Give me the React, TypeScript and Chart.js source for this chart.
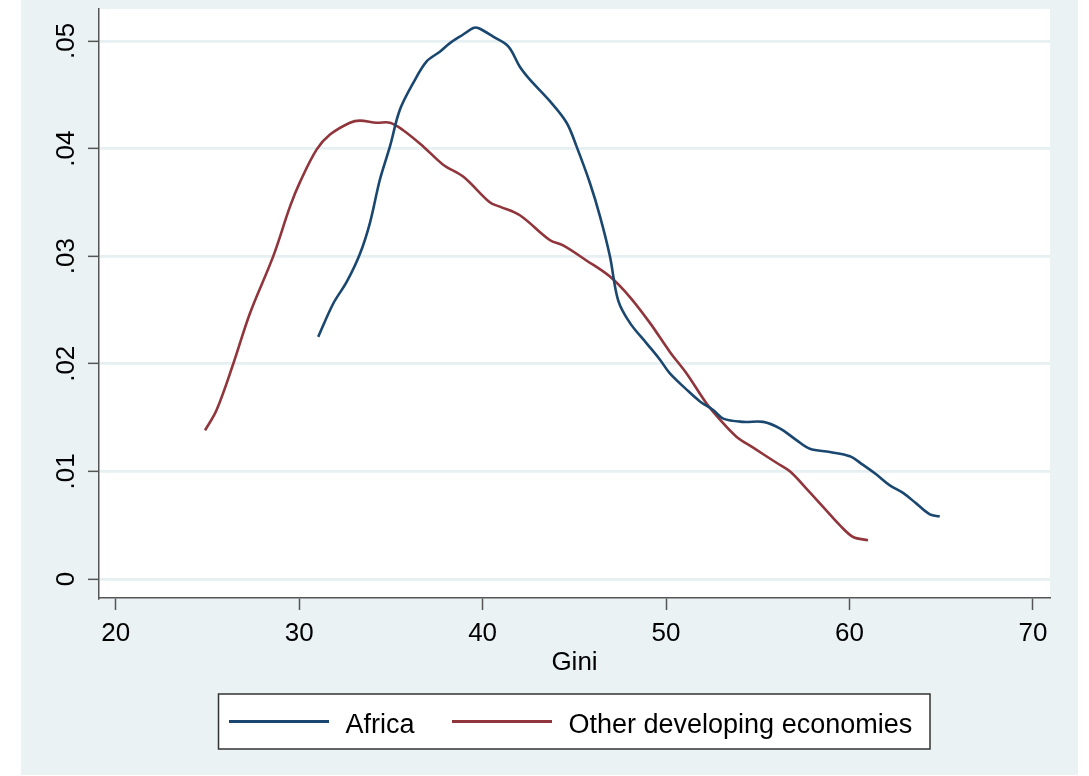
import React, { useEffect, useRef } from "react";
import { Chart, registerables } from "chart.js";

Chart.register(...registerables);

const xTicks = [20, 30, 40, 50, 60, 70];
const yTicks = [0, 0.01, 0.02, 0.03, 0.04, 0.05];
const yTickLabels = ["0", ".01", ".02", ".03", ".04", ".05"];
const xTitle = "Gini";
const seriesNames = ["Africa", "Other developing economies"];
const seriesColors = ["#1A476F", "#90353B"];

const africaGini = [
  31.04, 31.86, 32.59, 33.31, 33.86, 34.4, 34.95, 35.49, 36.22, 36.95, 37.67, 38.22, 38.94,
  39.49, 39.76, 40.58, 41.4, 42.03, 42.58, 43.67, 44.58, 45.12, 45.85, 46.4, 46.94, 47.39,
  48.03, 48.94, 49.66, 50.21, 51.12, 51.85, 52.57, 53.12, 54.21, 55.3, 56.2, 57.11, 57.84,
  58.93, 60.02, 60.74, 61.47, 62.2, 62.92, 63.65, 64.38, 64.92,
];
const africaDensity = [
  0.0225, 0.0256, 0.0276, 0.0302, 0.0331, 0.0371, 0.0402, 0.0436, 0.0461, 0.0481, 0.049, 0.0498,
  0.0506, 0.0512, 0.0512, 0.0504, 0.0495, 0.0476, 0.0464, 0.0444, 0.0424, 0.0402, 0.0368, 0.0337,
  0.03, 0.0259, 0.0238, 0.0219, 0.0204, 0.0191, 0.0176, 0.0165, 0.0157, 0.0149, 0.0146, 0.0146,
  0.014, 0.0129, 0.0121, 0.0118, 0.0114, 0.0106, 0.0097, 0.0087, 0.008, 0.007, 0.006, 0.0058,
];

const otherGini = [
  24.87, 25.5, 26.41, 27.32, 28.59, 29.5, 30.05, 30.95, 31.68, 32.77, 33.31, 34.22, 34.95, 35.67,
  36.76, 37.85, 38.94, 40.39, 40.94, 42.03, 43.66, 44.39, 45.66, 46.94, 48.03, 49.12, 50.21,
  51.12, 52.21, 52.94, 53.85, 54.75, 56.02, 56.75, 57.65, 58.56, 59.47, 60.2, 61.01,
];
const otherDensity = [
  0.0138, 0.0157, 0.02, 0.0247, 0.03, 0.0346, 0.0369, 0.0399, 0.0413, 0.0424, 0.0426, 0.0424,
  0.0424, 0.0417, 0.0402, 0.0385, 0.0374, 0.035, 0.0346, 0.0338, 0.0315, 0.031, 0.0296, 0.0281,
  0.0262, 0.0238, 0.0211, 0.0191, 0.0163, 0.0148, 0.0132, 0.0122, 0.0108, 0.01, 0.0084, 0.0067,
  0.005, 0.0039, 0.0036,
];

const FONT = "'Liberation Sans', Arial, sans-serif";
const BG = "#EAF2F3";
const AXIS = "#555555";

const bgPlugin = {
  id: "stataBg",
  beforeDraw(chart: any) {
    const { ctx, chartArea, width, height } = chart;
    ctx.save();
    ctx.fillStyle = "#ffffff";
    ctx.fillRect(0, 0, width, height);
    ctx.fillStyle = BG;
    ctx.fillRect(21, 0, 1057, 775);
    ctx.fillStyle = "#ffffff";
    ctx.fillRect(chartArea.left, chartArea.top, chartArea.right - chartArea.left, chartArea.bottom - chartArea.top);
    ctx.restore();
  },
};

const legendPlugin = {
  id: "stataLegend",
  afterDraw(chart: any) {
    const { ctx } = chart;
    const ds = chart.data.datasets;
    ctx.save();
    ctx.fillStyle = "#ffffff";
    ctx.fillRect(218.5, 694, 711.5, 55);
    ctx.strokeStyle = "#333333";
    ctx.lineWidth = 1.5;
    ctx.strokeRect(218.5, 694, 711.5, 55);
    const starts = [229, 452];
    ctx.font = `27px ${FONT}`;
    ctx.textBaseline = "alphabetic";
    ctx.textAlign = "left";
    ds.forEach((d: any, i: number) => {
      const x0 = starts[i];
      ctx.strokeStyle = d.borderColor;
      ctx.lineWidth = 3;
      ctx.beginPath();
      ctx.moveTo(x0, 721.5);
      ctx.lineTo(x0 + 100, 721.5);
      ctx.stroke();
      ctx.fillStyle = "#000000";
      ctx.fillText(d.label, x0 + 116.5, 733);
    });
    ctx.restore();
  },
};

export default function App() {
  const ref = useRef<HTMLCanvasElement | null>(null);

  useEffect(() => {
    if (!ref.current) return;
    const chart = new Chart(ref.current, {
      type: "line",
      data: {
        datasets: [
          {
            label: seriesNames[0],
            data: africaGini.map((g, i) => ({ x: g, y: africaDensity[i] })),
            borderColor: seriesColors[0],
            borderWidth: 2.6,
            pointRadius: 0,
            tension: 0.35,
            fill: false,
          },
          {
            label: seriesNames[1],
            data: otherGini.map((g, i) => ({ x: g, y: otherDensity[i] })),
            borderColor: seriesColors[1],
            borderWidth: 2.6,
            pointRadius: 0,
            tension: 0.35,
            fill: false,
          },
        ],
      },
      options: {
        animation: false,
        responsive: false,
        devicePixelRatio: 1,
        layout: { padding: { left: 21, right: 39, top: 9, bottom: 98 } },
        plugins: { legend: { display: false }, tooltip: { enabled: false } },
        scales: {
          x: {
            type: "linear",
            position: "bottom",
            min: 19.09,
            max: 70.93,
            afterBuildTicks: (s: any) => {
              s.ticks = xTicks.map((v) => ({ value: v }));
            },
            afterFit: (s: any) => {
              s.height = 80;
              s.paddingLeft = 0;
              s.paddingRight = 0;
            },
            ticks: {
              font: { family: FONT, size: 26 },
              color: "#000000",
              padding: 8,
              maxRotation: 0,
              autoSkip: false,
              callback: (v: any) => String(v),
            },
            grid: {
              drawOnChartArea: false,
              drawTicks: true,
              tickLength: 12,
              tickColor: AXIS,
              tickWidth: 1.5,
            },
            border: { display: true, color: AXIS, width: 1.5 },
            title: {
              display: true,
              text: xTitle,
              color: "#000000",
              font: { family: FONT, size: 26 },
              padding: { top: 0, bottom: 0 },
            },
          },
          y: {
            type: "linear",
            min: -0.00177,
            max: 0.05297,
            afterBuildTicks: (s: any) => {
              s.ticks = yTicks.map((v) => ({ value: v }));
            },
            afterFit: (s: any) => {
              s.width = 78;
              s.paddingTop = 0;
              s.paddingBottom = 0;
            },
            ticks: {
              font: { family: FONT, size: 26 },
              color: "#000000",
              minRotation: 90,
              maxRotation: 90,
              crossAlign: "center",
              padding: 3,
              autoSkip: false,
              callback: (_v: any, i: number) => yTickLabels[i],
            },
            grid: {
              color: "#E6EFF1",
              lineWidth: 2.7,
              drawTicks: true,
              tickLength: 11,
              tickColor: AXIS,
              tickWidth: 1.5,
            },
            border: { display: true, color: AXIS, width: 1.5 },
          },
        },
      },
      plugins: [bgPlugin, legendPlugin],
    } as any);
    return () => chart.destroy();
  }, []);

  return (
    <div style={{ position: "absolute", left: 0, top: 0, width: 1089, height: 776, background: "#ffffff" }}>
      <canvas ref={ref} width={1089} height={776} style={{ display: "block" }} />
    </div>
  );
}
